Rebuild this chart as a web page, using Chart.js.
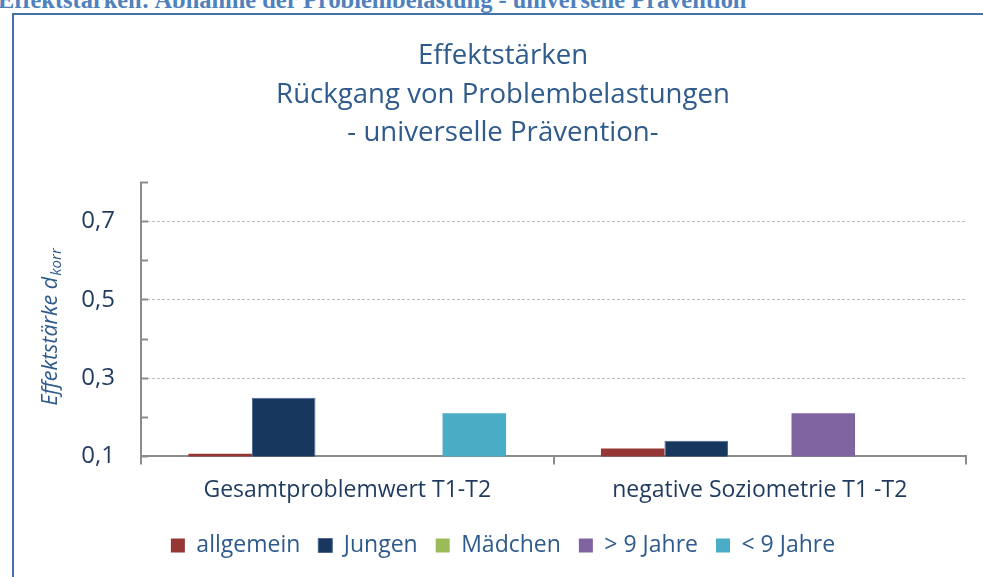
<!DOCTYPE html>
<html>
<head>
<meta charset="utf-8">
<script src="https://cdn.jsdelivr.net/npm/chart.js@4.4.0/dist/chart.umd.min.js"></script>
<style>
  body { margin: 0; background: #fff; overflow: hidden; }
  #heading {
    position: absolute; left: -2px; top: -14px; line-height: 24px;
    font: bold 24.4px "Liberation Serif", serif; color: #4F81BD;
    white-space: nowrap;
  }
  #box {
    position: absolute; left: 12px; top: 13px; width: 990px; height: 580px;
    border: 2px solid #4472A8; box-sizing: border-box;
  }
  #wrap { position: absolute; left: 14px; top: 15px; width: 969px; height: 562px; }
</style>
</head>
<body>
<div id="heading">Effektstärken: Abnahme der Problembelastung - universelle Prävention</div>
<div id="box"></div>
<div id="wrap"><canvas id="myChart"></canvas></div>
<script>
const categories = ['Gesamtproblemwert T1-T2', 'negative Soziometrie T1 -T2'];
const allgemein = [0.107, 0.12];
const jungen = [0.25, 0.14];
const maedchen = [null, null];
const ueber9 = [null, 0.21];
const unter9 = [0.21, null];
const yTicks = [0.1, 0.3, 0.5, 0.7];

const textBlue = '#2F5A8C';
const tickBlue = '#1F3A5F';
const axisGray = '#8C8C8C';

// y axis title with subscript
const yTitle = {
  id: 'yTitle',
  afterDraw(chart) {
    const c = chart.ctx;
    const cx = 37, cy = (chart.chartArea.top + chart.chartArea.bottom) / 2 + 8;
    c.save();
    c.translate(cx, cy);
    c.rotate(-Math.PI / 2);
    c.fillStyle = textBlue;
    c.textBaseline = 'middle';
    const main = 'Effektstärke d';
    const sub = 'korr';
    c.font = 'italic 21.5px "Open Sans"';
    const w1 = c.measureText(main).width;
    c.font = 'italic 15px "Open Sans"';
    const w2 = c.measureText(sub).width;
    const x0 = -(w1 + w2) / 2;
    c.font = 'italic 21.5px "Open Sans"';
    c.fillText(main, x0, 0);
    c.font = 'italic 15px "Open Sans"';
    c.fillText(sub, x0 + w1 + 1, 6);
    c.restore();
  }
};

const ctx = document.getElementById('myChart');

new Chart(ctx, {
  type: 'bar',
  data: {
    labels: categories,
    datasets: [
      { label: 'allgemein', data: allgemein, backgroundColor: '#953735' },
      { label: 'Jungen', data: jungen, backgroundColor: '#17375E', borderColor: '#4A6690', borderWidth: 1 },
      { label: 'Mädchen', data: maedchen, backgroundColor: '#9BBB59' },
      { label: '> 9 Jahre', data: ueber9, backgroundColor: '#8064A2' },
      { label: '< 9 Jahre', data: unter9, backgroundColor: '#4BACC6' },
    ]
  },
  options: {
    responsive: true,
    maintainAspectRatio: false,
    animation: false,
    categoryPercentage: 0.77,
    barPercentage: 1,
    layout: { padding: { left: 26, right: 17, top: 0, bottom: 10 } },
    plugins: {
      title: {
        display: true,
        text: ['Effektstärken', 'Rückgang von Problembelastungen', '- universelle Prävention-'],
        color: textBlue,
        font: { family: 'Open Sans', size: 27.6, weight: 'normal', lineHeight: 1.395 },
        padding: { top: 22, bottom: 30 }
      },
      legend: {
        position: 'bottom',
        labels: {
          color: textBlue,
          font: { family: 'Open Sans', size: 23 },
          boxWidth: 14, boxHeight: 14,
          padding: 18
        }
      },
      tooltip: { enabled: false }
    },
    scales: {
      x: {
        offset: true,
        grid: { offset: true, drawOnChartArea: false, color: axisGray, tickColor: axisGray, tickLength: 8, lineWidth: 2 },
        border: { color: axisGray, width: 2 },
        ticks: { color: tickBlue, font: { family: 'Open Sans', size: 23 }, padding: 12 }
      },
      y: {
        min: 0.1, max: 0.8,
        afterFit(scale) { scale.width = 101; },
        afterBuildTicks(scale) {
          scale.ticks = [0.1, 0.2, 0.3, 0.4, 0.5, 0.6, 0.7, 0.8].map(v => ({ value: v }));
        },
        grid: {
          color: c => (c.tick && yTicks.includes(Math.round(c.tick.value * 10) / 10) && c.tick.value > 0.15) ? '#BDBDBD' : 'rgba(0,0,0,0)',
          tickColor: axisGray,
          tickLength: -7,
          lineWidth: 1,
          tickWidth: 2
        },
        border: { color: axisGray, width: 2, dash: [3, 2] },
        ticks: {
          color: tickBlue,
          font: { family: 'Open Sans', size: 24 },
          padding: 33,
          callback: v => {
            const r = Math.round(v * 10) / 10;
            return yTicks.includes(r) ? r.toFixed(1).replace('.', ',') : '';
          }
        }
      }
    }
  },
  plugins: [yTitle]
});
</script>
</body>
</html>
